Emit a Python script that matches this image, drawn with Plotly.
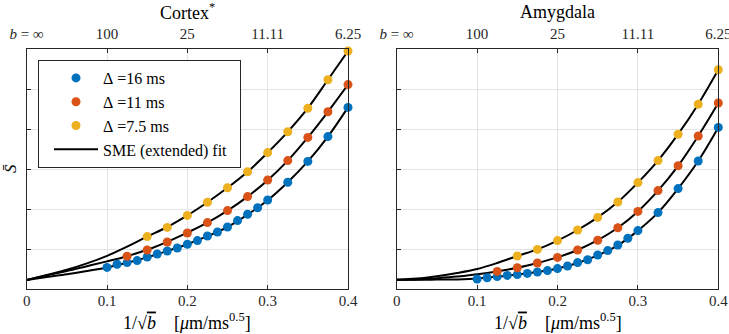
import plotly.graph_objects as go

# ---------------- data ----------------
x_blue = [0.1, 0.1125, 0.125, 0.1375, 0.15, 0.1625, 0.175, 0.1875, 0.2, 0.2125, 0.225,
          0.2375, 0.25, 0.2625, 0.275, 0.2875, 0.3, 0.325, 0.35, 0.375, 0.4]
x_orange = [0.125, 0.15, 0.175, 0.2, 0.225, 0.25, 0.275, 0.3, 0.325, 0.35, 0.375, 0.4]
x_yellow = [0.15, 0.175, 0.2, 0.225, 0.25, 0.275, 0.3, 0.325, 0.35, 0.375, 0.4]

cortex_blue = [0.54, 0.62, 0.66, 0.71, 0.80, 0.875, 0.95, 1.025, 1.12, 1.21, 1.325,
               1.425, 1.55, 1.71, 1.87, 2.03, 2.225, 2.67, 3.19, 3.81, 4.54]
cortex_orange = [0.82, 0.975, 1.175, 1.40, 1.66, 1.96, 2.31, 2.725, 3.21, 3.79, 4.43, 5.11]
cortex_yellow = [1.31, 1.54, 1.84, 2.17, 2.53, 2.93, 3.41, 3.93, 4.52, 5.23, 5.95]

amyg_blue = [0.25, 0.28, 0.31, 0.34, 0.36, 0.39, 0.425, 0.46, 0.51, 0.575, 0.66,
             0.73, 0.85, 0.96, 1.10, 1.27, 1.46, 1.91, 2.51, 3.20, 4.04]
amyg_orange = [0.44, 0.53, 0.65, 0.79, 0.975, 1.22, 1.53, 1.94, 2.46, 3.08, 3.825, 4.65]
amyg_yellow = [0.825, 0.99, 1.21, 1.475, 1.79, 2.175, 2.66, 3.21, 3.87, 4.62, 5.48]

# fitted curves
x_fit = [0, 0.025, 0.05, 0.075, 0.1, 0.125, 0.15, 0.175, 0.2, 0.225, 0.25, 0.275,
         0.3, 0.325, 0.35, 0.375, 0.4]
cortex_fit_blue = [0.225, 0.30, 0.37, 0.45, 0.54, 0.655, 0.79, 0.95, 1.12, 1.32, 1.55,
                   1.86, 2.22, 2.67, 3.19, 3.81, 4.54]
cortex_fit_orange = [0.225, 0.34, 0.45, 0.57, 0.69, 0.82, 0.98, 1.18, 1.41, 1.66, 1.96,
                     2.31, 2.72, 3.21, 3.79, 4.43, 5.11]
cortex_fit_yellow = [0.225, 0.35, 0.48, 0.64, 0.83, 1.06, 1.31, 1.55, 1.84, 2.17, 2.53,
                     2.93, 3.41, 3.93, 4.52, 5.23, 5.95]
amyg_fit_blue = [0.23, 0.23, 0.235, 0.24, 0.26, 0.31, 0.36, 0.425, 0.51, 0.65, 0.84,
                 1.09, 1.46, 1.91, 2.51, 3.20, 4.04]
amyg_fit_orange = [0.23, 0.24, 0.27, 0.31, 0.37, 0.44, 0.53, 0.65, 0.79, 0.975, 1.22,
                   1.53, 1.94, 2.46, 3.08, 3.825, 4.65]
amyg_fit_yellow = [0.23, 0.26, 0.32, 0.40, 0.50, 0.65, 0.825, 0.99, 1.21, 1.475, 1.79,
                   2.175, 2.66, 3.21, 3.87, 4.62, 5.48]

x_ticks = [0, 0.1, 0.2, 0.3, 0.4]
x_tick_labels = ["0", "0.1", "0.2", "0.3", "0.4"]
b_tick_labels = ["<i>b</i> = ∞", "100", "25", "11.11", "6.25"]
y_ticks = [1, 2, 3, 4, 5]
panel_titles = ["Cortex<sup>*</sup>", "Amygdala"]
series_names = ["Δ\u00a0=16\u00a0ms", "Δ\u00a0=11\u00a0ms", "Δ\u00a0=7.5\u00a0ms"]
fit_name = "SME (extended) fit\u00a0\u00a0"
colors = ["#0072BD", "#D95319", "#EDB120"]

FONT = "Liberation Serif, DejaVu Serif, serif"
W, H = 729, 334

fig = go.Figure()

panels = [
    dict(xa="x", ya="y", data=[cortex_blue, cortex_orange, cortex_yellow],
         fits=[cortex_fit_blue, cortex_fit_orange, cortex_fit_yellow]),
    dict(xa="x2", ya="y2", data=[amyg_blue, amyg_orange, amyg_yellow],
         fits=[amyg_fit_blue, amyg_fit_orange, amyg_fit_yellow]),
]
xs = [x_blue, x_orange, x_yellow]

for pi, p in enumerate(panels):
    for k in range(3):
        fig.add_trace(go.Scatter(
            x=x_fit, y=p["fits"][k], mode="lines", line=dict(color="black", width=2, shape="spline"),
            xaxis=p["xa"], yaxis=p["ya"], name=fit_name,
            showlegend=(pi == 0 and k == 0), legendrank=10, hoverinfo="skip"))
    for k in range(3):
        fig.add_trace(go.Scatter(
            x=xs[k], y=p["data"][k], mode="markers",
            marker=dict(color=colors[k], size=9, line=dict(width=0)),
            xaxis=p["xa"], yaxis=p["ya"], name=series_names[k], cliponaxis=False,
            showlegend=(pi == 0), legendrank=k + 1))

x_dom = [[26.7 / W, 348 / W], [396.7 / W, 718.3 / W]]
y_dom = [1 - 289 / H, 1 - 49 / H]

axcommon = dict(range=[0, 0.4], showgrid=True, gridcolor="#e3e3e3", gridwidth=1,
                zeroline=False, showline=True, linecolor="#262626", linewidth=1,
                ticks="inside", ticklen=4, tickcolor="#262626", automargin=False,
                ticklabeloverflow="allow",
                tickfont=dict(family=FONT, size=15, color="#262626"))
ycommon = dict(range=[0, 6], showgrid=True, gridcolor="#e3e3e3", gridwidth=1,
               zeroline=False, showline=True, linecolor="#262626", linewidth=1,
               mirror=True, ticks="inside", ticklen=4, tickcolor="#262626",
               tickvals=y_ticks, showticklabels=False, automargin=False)

xtitle = "1/√<span style='text-decoration:overline'><i>b</i></span>    [<i>μ</i>m/ms<sup>0.5</sup>]"

layout = dict(
    width=W, height=H, margin=dict(l=0, r=0, t=0, b=0),
    paper_bgcolor="white", plot_bgcolor="white", showlegend=True,
    font=dict(family=FONT, color="#262626"),
    legend=dict(x=38 / W, y=1 - 60 / H, xanchor="left", yanchor="top",
                bgcolor="white", bordercolor="#262626", borderwidth=1,
                font=dict(family=FONT, size=16, color="black"),
                tracegroupgap=0, itemwidth=44, indentation=10),
)
for i in range(2):
    sx = "" if i == 0 else str(i + 1)
    layout["xaxis" + sx] = dict(axcommon, domain=x_dom[i], anchor="y" + sx,
                                tickvals=x_ticks, ticktext=x_tick_labels, ticklabelstandoff=-2)
    layout["yaxis" + sx] = dict(ycommon, domain=y_dom, anchor="x" + sx)
    top = "xaxis" + str(i + 3)
    layout[top] = dict(axcommon, overlaying="x" + sx, anchor="y" + sx, side="top",
                       tickvals=x_ticks, ticktext=b_tick_labels, showgrid=False,
                       ticklabelstandoff=3)
fig.update_layout(**layout)

# empty traces so the top axes exist
for i in range(2):
    fig.add_trace(go.Scatter(x=[], y=[], xaxis="x" + str(i + 3), yaxis="y" if i == 0 else "y2",
                             showlegend=False, hoverinfo="skip"))

# panel titles and x-axis titles
for i in range(2):
    cx = (x_dom[i][0] + x_dom[i][1]) / 2
    fig.add_annotation(text=panel_titles[i], x=cx, y=1 - 12 / H, xanchor="center", yanchor="middle",
                       xref="paper", yref="paper", showarrow=False,
                       font=dict(family=FONT, size=18, color="black"))
    fig.add_annotation(text=xtitle, x=cx, y=1 - 321 / H, xanchor="center", yanchor="middle",
                       xref="paper", yref="paper", showarrow=False,
                       font=dict(family=FONT, size=18, color="black"))
# y label
fig.add_annotation(text="<i>S̄</i>", x=10 / W, y=1 - 169 / H, xanchor="center", yanchor="middle",
                   xref="paper", yref="paper",
                   showarrow=False, textangle=-90, font=dict(family=FONT, size=17, color="black"))

fig.write_html("out.html", config={"displayModeBar": False},
               post_script="document.body.style.margin='0px';")
